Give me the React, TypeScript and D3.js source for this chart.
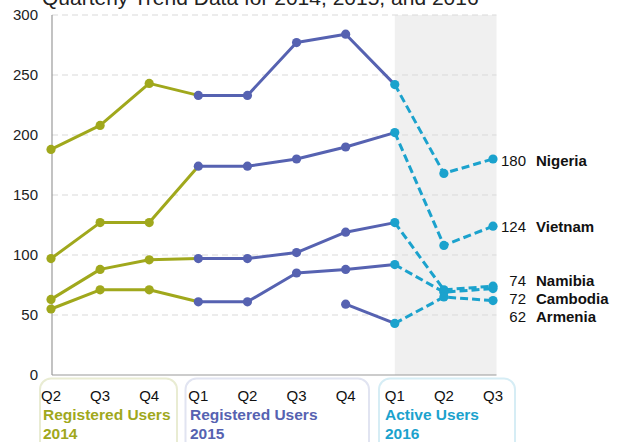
import React from "react";
import * as d3 from "d3";

const quarters = ["Q2", "Q3", "Q4", "Q1", "Q2", "Q3", "Q4", "Q1", "Q2", "Q3"];
const yTicks = [0, 50, 100, 150, 200, 250, 300];

const countries = ["Nigeria", "Vietnam", "Namibia", "Cambodia", "Armenia"];
const nigeria = [188, 208, 243, 233, 233, 277, 284, 242, 168, 180];
const vietnam = [97, 127, 127, 174, 174, 180, 190, 202, 108, 124];
const namibia = [63, 88, 96, 97, 97, 102, 119, 127, 71, 74];
const cambodia = [55, 71, 71, 61, 61, 85, 88, 92, 69, 72];
const armenia = [null, null, null, null, null, null, 59, 43, 65, 62];
const endLabelY = [179, 123.5, 79, 64, 49];

const groups = [
  { label: "Registered Users", year: "2014", start: 0, end: 2 },
  { label: "Registered Users", year: "2015", start: 3, end: 6 },
  { label: "Active Users", year: "2016", start: 7, end: 9 },
];
const green = "#a0a81c";
const blue = "#5662b1";
const cyan = "#1ba2cd";
const groupColors = [green, blue, cyan];
const boxColors = ["#e9ecd3", "#e1e4f1", "#d6edf5"];

const series = [nigeria, vietnam, namibia, cambodia, armenia];

export default function App() {
  const font = "'Liberation Sans', Arial, sans-serif";
  const x = d3.scaleLinear().domain([0, 9]).range([51, 493]);
  const y = d3.scaleLinear().domain([0, 300]).range([375, 15]);
  const colorAt = (i: number) => (i <= 2 ? green : i <= 6 ? blue : cyan);

  const line = d3
    .line<[number, number]>()
    .x((d) => x(d[0]))
    .y((d) => y(d[1]));

  const seg = (vals: (number | null)[], a: number, b: number) => {
    const pts: [number, number][] = [];
    for (let i = a; i <= b; i++) {
      if (vals[i] != null) pts.push([i, vals[i] as number]);
    }
    return pts.length > 1 ? line(pts) : null;
  };

  return (
    <svg
      width={618}
      height={442}
      style={{ position: "absolute", left: 0, top: 0, background: "#fff" }}
      fontFamily={font}
    >
      <text x={42} y={5} fontSize={21} fill="#222">
        Quarterly Trend Data for 2014, 2015, and 2016
      </text>
      {/* shaded 2016 band */}
      <rect x={x(7)} y={y(300)} width={x(9) - x(7) + 3.5} height={y(0) - y(300)} fill="#f0f0f0" />
      {/* gridlines */}
      {yTicks.filter((t) => t > 0).map((t) => (
        <line
          key={t}
          x1={52}
          x2={x(9) + 3.5}
          y1={y(t)}
          y2={y(t)}
          stroke="#d9d9d9"
          strokeWidth={1}
          strokeDasharray="6,4"
        />
      ))}
      {/* axes */}
      <line x1={52} x2={52} y1={y(300)} y2={y(0)} stroke="#9a9a9a" strokeWidth={1.2} />
      <line x1={52} x2={x(9) + 3.5} y1={y(0)} y2={y(0)} stroke="#9a9a9a" strokeWidth={1.2} />
      {yTicks.map((t) => (
        <text key={t} x={38} y={y(t) + 5.3} fontSize={15} textAnchor="end" fill="#222">
          {t}
        </text>
      ))}
      {/* group boxes */}
      {groups.map((g, gi) => {
        const left = gi === 0 ? 40 : gi === 1 ? 185.5 : 379;
        const right = gi === 0 ? 177 : gi === 1 ? 369 : 515;
        return (
          <rect
            key={gi}
            x={left}
            y={378.5}
            width={right - left}
            height={80}
            rx={11}
            fill="none"
            stroke={boxColors[gi]}
            strokeWidth={2}
          />
        );
      })}
      {quarters.map((q, i) => (
        <text key={i} x={x(i)} y={400.5} fontSize={15} textAnchor="middle" fill="#111">
          {q}
        </text>
      ))}
      {groups.map((g, gi) => {
        const lx = gi === 0 ? 43 : gi === 1 ? 190 : 385;
        return (
          <g key={gi} fill={groupColors[gi]} fontWeight="bold" fontSize={15.5}>
            <text x={lx} y={420}>{g.label}</text>
            <text x={lx} y={439}>{g.year}</text>
          </g>
        );
      })}
      {/* lines */}
      {series.map((s, si) => (
        <g key={si}>
          <path d={seg(s, 0, 3) || ""} fill="none" stroke={green} strokeWidth={3} strokeLinejoin="round" />
          <path d={seg(s, 3, 7) || ""} fill="none" stroke={blue} strokeWidth={3} strokeLinejoin="round" />
          <path
            d={seg(s, 7, 9) || ""}
            fill="none"
            stroke={cyan}
            strokeWidth={3}
            strokeDasharray="8,4"
          />
        </g>
      ))}
      {/* dots */}
      {series.map((s, si) =>
        s.map((v, i) =>
          v == null ? null : (
            <circle key={si + "-" + i} cx={x(i)} cy={y(v)} r={4.6} fill={colorAt(i)} />
          )
        )
      )}
      {/* end labels */}
      {series.map((s, si) => {
        const ly = y(endLabelY[si]) + 5.3;
        return (
          <g key={si}>
            <text x={526} y={ly} fontSize={15} textAnchor="end" fill="#111">
              {s[9]}
            </text>
            <text x={536} y={ly} fontSize={15} fontWeight="bold" fill="#111">
              {countries[si]}
            </text>
          </g>
        );
      })}
    </svg>
  );
}
